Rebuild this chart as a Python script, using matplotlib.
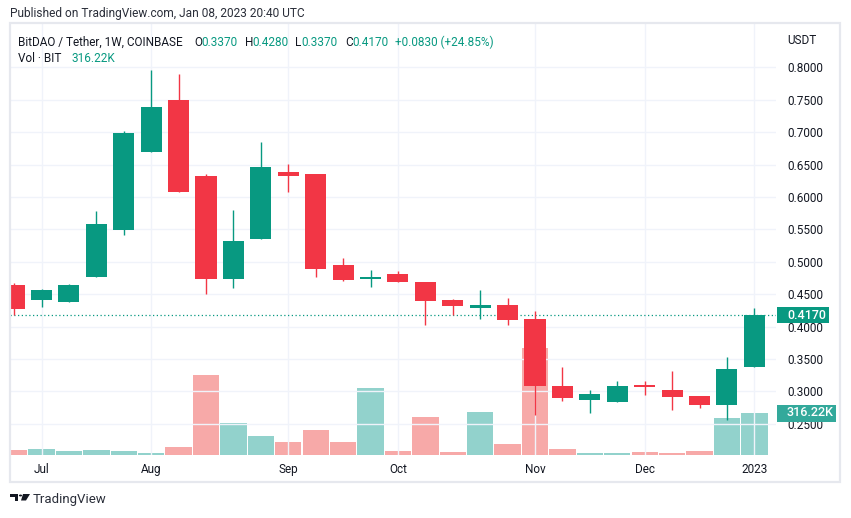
import datetime as dt
import numpy as np
import matplotlib
matplotlib.use('Agg')
import matplotlib.pyplot as plt
from matplotlib.patches import Rectangle, Polygon, Circle

plt.rcParams['font.family'] = ['Roboto', 'DejaVu Sans']

# weekly candles, BIT/USDT (Coinbase), Monday of each week
weeks = ['2022-06-27', '2022-07-04', '2022-07-11', '2022-07-18', '2022-07-25',
         '2022-08-01', '2022-08-08', '2022-08-15', '2022-08-22', '2022-08-29',
         '2022-09-05', '2022-09-12', '2022-09-19', '2022-09-26', '2022-10-03',
         '2022-10-10', '2022-10-17', '2022-10-24', '2022-10-31', '2022-11-07',
         '2022-11-14', '2022-11-21', '2022-11-28', '2022-12-05', '2022-12-12',
         '2022-12-19', '2022-12-26', '2023-01-02']
opens = [0.4640, 0.4414, 0.4378, 0.4764, 0.5490, 0.6693, 0.7495, 0.6322, 0.4733, 0.5350,
         0.6384, 0.6353, 0.4949, 0.4733, 0.4810, 0.4687, 0.4410, 0.4290, 0.4332, 0.4116,
         0.3082, 0.2866, 0.2835, 0.3102, 0.3020, 0.2932, 0.2793, 0.3370]
highs = [0.4676, 0.4583, 0.4660, 0.5782, 0.7017, 0.7958, 0.7897, 0.6353, 0.5798, 0.6847,
         0.6508, 0.6353, 0.5057, 0.4872, 0.4856, 0.4687, 0.4429, 0.4563, 0.4440, 0.4239,
         0.3375, 0.3020, 0.3159, 0.3159, 0.3313, 0.2932, 0.3529, 0.4280]
lows = [0.4177, 0.4306, 0.4378, 0.4764, 0.5412, 0.6693, 0.6075, 0.4500, 0.4594, 0.5350,
        0.6075, 0.4764, 0.4702, 0.4610, 0.4687, 0.4023, 0.4182, 0.4120, 0.4023, 0.2634,
        0.2855, 0.2665, 0.2835, 0.2943, 0.2711, 0.2747, 0.2557, 0.3370]
closes = [0.4275, 0.4563, 0.4640, 0.5582, 0.6986, 0.7387, 0.6075, 0.4733, 0.5320, 0.6461,
          0.6322, 0.4887, 0.4718, 0.4764, 0.4687, 0.4394, 0.4321, 0.4332, 0.4100, 0.3087,
          0.2901, 0.2958, 0.3082, 0.3071, 0.2917, 0.2793, 0.3340, 0.4170]
volume_k = [35, 43, 28, 35, 28, 13, 58, 600, 238, 141,
            95, 186, 95, 502, 28, 286, 23, 324, 83, 806,
            45, 15, 15, 23, 15, 30, 279, 316.22]
price_ticks = [0.25, 0.30, 0.35, 0.40, 0.45, 0.50, 0.55, 0.60, 0.65, 0.70, 0.75, 0.80]

GREEN = '#089981'
RED = '#F23645'
VGREEN = '#92D2CC'
VRED = '#F7A9A8'
GRID = '#F0F3FA'
TXT = '#131722'

W, H = 851, 518


def px(x, y):
    # pixel position (from top-left) -> figure fraction
    return x / W, 1 - y / H


def tag(axis, value, text, color, x_left, x_right, height):
    # coloured label on the price scale, centred on value
    yc = H - axis.transData.transform((0, value))[1]
    fig.patches.append(Rectangle(px(x_left, yc + height / 2), (x_right - x_left) / W,
                                 height / H, transform=fig.transFigure,
                                 fc=color, ec='none', zorder=10))
    fig.text(*px(787, yc), text, color='white', fontsize=9, fontweight='medium',
             va='center', ha='left', zorder=11)


o = np.array(opens)
h = np.array(highs)
l = np.array(lows)
c = np.array(closes)
v = np.array(volume_k)
x = np.arange(len(weeks))
up = c >= o

dates = [dt.date.fromisoformat(s) for s in weeks]
tick_pos, tick_lab = [], []
for i, d in enumerate(dates):
    if i > 0 and d.month != dates[i - 1].month:
        tick_pos.append(i)
        tick_lab.append(str(d.year) if d.month == 1 else d.strftime('%b'))

fig = plt.figure(figsize=(W / 100, H / 100), dpi=100)
x0, y1 = px(10, 455)
ax = fig.add_axes([x0, y1, (776 - 10) / W, (455 - 23) / H])
axv = ax.twinx()
ax.set_zorder(axv.get_zorder() + 1)
ax.patch.set_visible(False)

# volume
axv.bar(x, v, width=0.96, color=np.where(up, VGREEN, VRED), linewidth=0)
axv.set_ylim(0, 316.22 * 432 / 42)
axv.set_yticks([])
for s in axv.spines.values():
    s.set_visible(False)

# candles
ax.vlines(x, l, h, color=np.where(up, GREEN, RED), lw=1.0, zorder=3)
body_lo = np.minimum(o, c)
body_h = np.maximum(np.abs(c - o), 0.0016)
ax.bar(x, body_h, bottom=body_lo, width=0.77, color=np.where(up, GREEN, RED),
       linewidth=0, zorder=4)

ax.set_xlim(-0.15, 27.79)
ax.set_ylim(0.2017, 0.8684)
ax.set_yticks(price_ticks)
ax.set_yticklabels(['%.4f' % t for t in price_ticks])
ax.yaxis.tick_right()
ax.set_xticks(tick_pos)
ax.set_xticklabels(tick_lab)
ax.tick_params(axis='y', length=0, pad=8, labelsize=8.5, labelcolor=TXT)
ax.tick_params(axis='x', length=0, pad=6, labelsize=8.5, labelcolor=TXT)
ax.grid(True, color=GRID, lw=1.0, zorder=0)
ax.set_axisbelow(True)
for s in ax.spines.values():
    s.set_visible(False)

# last price line + labels on the scale
ax.axhline(c[-1], color=GREEN, lw=0.9, ls=(0, (1, 2)), zorder=2)
tag(ax, c[-1], '%.4f' % c[-1], GREEN, 777, 829, 16)
tag(axv, v[-1], '%.2fK' % v[-1], '#33A99B', 777, 836, 17)
fig.text(*px(787, 41), 'USDT', fontsize=8.5, color=TXT, va='center')

# frame around the chart
fig.patches.append(Rectangle(px(10, 482), 830 / W, 459 / H, transform=fig.transFigure,
                             fill=False, ec='#E6E8EE', lw=1.6))

# header
fig.text(*px(10, 14), 'Published on TradingView.com, Jan 08, 2023 20:40 UTC',
         fontsize=8.6, color='#2A2E39', va='center')
fig.text(*px(18, 42), 'BitDAO / Tether, 1W, COINBASE', fontsize=8.5, color=TXT, va='center')
for lab, val, xl, xv in [('O', opens[-1], 194, 201), ('H', highs[-1], 245, 252),
                         ('L', lows[-1], 295.5, 301), ('C', closes[-1], 345, 352)]:
    fig.text(*px(xl, 42), lab, fontsize=8.5, color=TXT, va='center')
    fig.text(*px(xv, 42), '%.4f' % val, fontsize=8.5, color=GREEN, va='center')
chg = c[-1] - c[-2]
fig.text(*px(395, 42), '+%.4f (+%.2f%%)' % (chg, chg / c[-2] * 100),
         fontsize=8.5, color=GREEN, va='center')
fig.text(*px(18, 59), 'Vol \u00b7 BIT', fontsize=8.5, color=TXT, va='center')
fig.text(*px(71, 59), '%.2fK' % v[-1], fontsize=8.5, color=GREEN, va='center')

# TradingView logo + name
logo = [Polygon([px(10, 494), px(18, 494), px(18, 500.5), px(15, 500.5), px(15, 497),
                 px(10, 497)]),
        Polygon([px(23, 494), px(30, 494), px(26, 500.5), px(21, 500.5)])]
for p in logo:
    p.set_transform(fig.transFigure)
    p.set_facecolor('#131722')
    p.set_edgecolor('none')
    fig.patches.append(p)
fig.patches.append(Circle(px(20.5, 495.5), 1.6 / W, transform=fig.transFigure,
                          fc='#131722', ec='none'))
fig.text(*px(33, 499), 'TradingView', fontsize=9.5, color='#2A2E39', va='center')

fig.savefig('out.png', dpi=100)
